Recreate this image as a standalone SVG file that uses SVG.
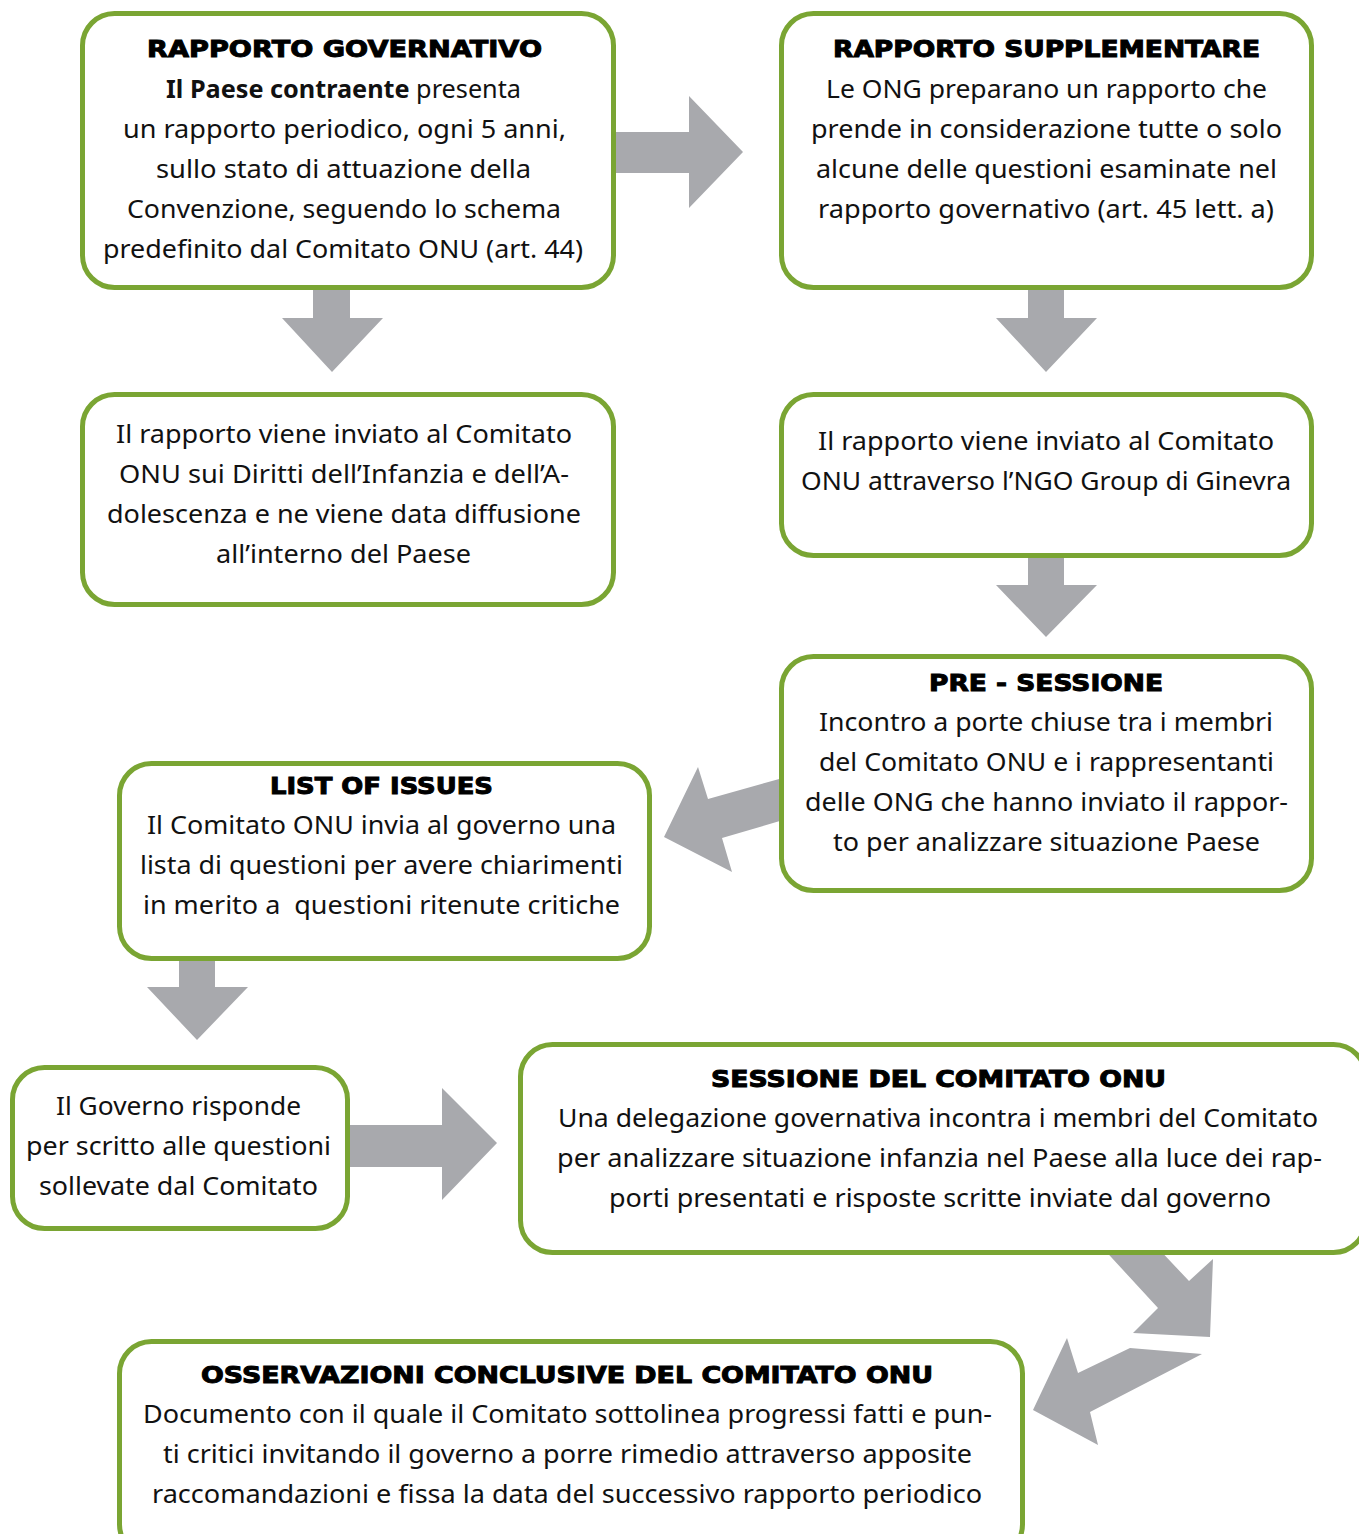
<svg xmlns="http://www.w3.org/2000/svg" width="1359" height="1534" viewBox="0 0 1359 1534">
<style>
.box{fill:#ffffff;stroke:#7aa533;stroke-width:5}
.arr{fill:#a8a9ad}
.t{font-family:"DejaVu Sans",sans-serif;font-weight:bold;font-size:23px;fill:#000;stroke:#000;stroke-width:1px;text-anchor:middle}
.b{font-family:"Noto Sans","Open Sans",sans-serif;font-size:25px;fill:#111;text-anchor:middle}
.bb{font-weight:bold}
.pre{white-space:pre}
</style>
<rect width="1359" height="1534" fill="#ffffff"/>
<g id="connectors">
<polygon class="arr" points="605,132 689,132 689,96 743,152 689,208 689,173 605,173"/>
<polygon class="arr" points="313,280 350,280 350,318 383,318 332,372 282,318 313,318"/>
<polygon class="arr" points="1028,280 1064,280 1064,318 1097,318 1046,372 996,318 1028,318"/>
<polygon class="arr" points="1028,548 1064,548 1064,585 1097,585 1046,637 996,585 1028,585"/>
<polygon class="arr" points="790,776 708,799 698,767 664,837 732,872 722,838 790,818"/>
<polygon class="arr" points="179,950 215,950 215,987 248,987 197,1040 147,987 179,987"/>
<polygon class="arr" points="340,1125 442,1125 442,1088 497,1143 442,1200 442,1167 340,1167"/>
<polygon class="arr" points="1100,1245 1155,1245 1189,1281 1213,1259 1210,1337 1133,1333 1158,1308"/>
<polygon class="arr" points="1202,1354 1130,1348 1078,1373 1067,1338 1033,1410 1098,1445 1090,1412"/>
</g>
<g id="node-rapporto-governativo">
<rect class="box" x="82.5" y="13.5" width="531" height="274" rx="32"/>
<text class="t" x="344.5" y="57" textLength="395" lengthAdjust="spacingAndGlyphs">RAPPORTO GOVERNATIVO</text>
<text class="b" x="343.5" y="98" textLength="355" lengthAdjust="spacingAndGlyphs"><tspan class="bb">Il Paese contraente</tspan> presenta</text>
<text class="b" x="344.5" y="138" textLength="443" lengthAdjust="spacingAndGlyphs">un rapporto periodico, ogni 5 anni,</text>
<text class="b" x="343.5" y="178" textLength="375" lengthAdjust="spacingAndGlyphs">sullo stato di attuazione della</text>
<text class="b" x="344" y="218" textLength="434" lengthAdjust="spacingAndGlyphs">Convenzione, seguendo lo schema</text>
<text class="b" x="343" y="258" textLength="480" lengthAdjust="spacingAndGlyphs">predefinito dal Comitato ONU (art. 44)</text>
</g>
<g id="node-rapporto-supplementare">
<rect class="box" x="781.5" y="13.5" width="530" height="274" rx="32"/>
<text class="t" x="1046.5" y="57" textLength="427" lengthAdjust="spacingAndGlyphs">RAPPORTO SUPPLEMENTARE</text>
<text class="b" x="1046.5" y="98" textLength="441" lengthAdjust="spacingAndGlyphs">Le ONG preparano un rapporto che</text>
<text class="b" x="1046.5" y="138" textLength="471" lengthAdjust="spacingAndGlyphs">prende in considerazione tutte o solo</text>
<text class="b" x="1046.5" y="178" textLength="461" lengthAdjust="spacingAndGlyphs">alcune delle questioni esaminate nel</text>
<text class="b" x="1046" y="218" textLength="456" lengthAdjust="spacingAndGlyphs">rapporto governativo (art. 45 lett. a)</text>
</g>
<g id="node-invio-comitato">
<rect class="box" x="82.5" y="394.5" width="531" height="210" rx="32"/>
<text class="b" x="344" y="443" textLength="456" lengthAdjust="spacingAndGlyphs">Il rapporto viene inviato al Comitato</text>
<text class="b" x="344" y="483" textLength="450" lengthAdjust="spacingAndGlyphs">ONU sui Diritti dell’Infanzia e dell’A-</text>
<text class="b" x="344" y="523" textLength="474" lengthAdjust="spacingAndGlyphs">dolescenza e ne viene data diffusione</text>
<text class="b" x="343.5" y="563" textLength="255" lengthAdjust="spacingAndGlyphs">all’interno del Paese</text>
</g>
<g id="node-invio-ngo">
<rect class="box" x="781.5" y="394.5" width="530" height="161" rx="32"/>
<text class="b" x="1046" y="450" textLength="456" lengthAdjust="spacingAndGlyphs">Il rapporto viene inviato al Comitato</text>
<text class="b" x="1046" y="490" textLength="490" lengthAdjust="spacingAndGlyphs">ONU attraverso l’NGO Group di Ginevra</text>
</g>
<g id="node-pre-sessione">
<rect class="box" x="781.5" y="656.5" width="530" height="234" rx="32"/>
<text class="t" x="1046" y="691" textLength="234" lengthAdjust="spacingAndGlyphs">PRE - SESSIONE</text>
<text class="b" x="1046" y="731" textLength="454" lengthAdjust="spacingAndGlyphs">Incontro a porte chiuse tra i membri</text>
<text class="b" x="1046.5" y="771" textLength="455" lengthAdjust="spacingAndGlyphs">del Comitato ONU e i rappresentanti</text>
<text class="b" x="1046.5" y="811" textLength="483" lengthAdjust="spacingAndGlyphs">delle ONG che hanno inviato il rappor-</text>
<text class="b" x="1046.5" y="851" textLength="427" lengthAdjust="spacingAndGlyphs">to per analizzare situazione Paese</text>
</g>
<g id="node-list-of-issues">
<rect class="box" x="119.5" y="763.5" width="530" height="195" rx="32"/>
<text class="t" x="381.5" y="794" textLength="223" lengthAdjust="spacingAndGlyphs">LIST OF ISSUES</text>
<text class="b" x="381.5" y="834" textLength="469" lengthAdjust="spacingAndGlyphs">Il Comitato ONU invia al governo una</text>
<text class="b" x="381.5" y="874" textLength="483" lengthAdjust="spacingAndGlyphs">lista di questioni per avere chiarimenti</text>
<text class="b pre" x="381.5" y="914" textLength="477" lengthAdjust="spacingAndGlyphs">in merito a  questioni ritenute critiche</text>
</g>
<g id="node-risposta-governo">
<rect class="box" x="12.5" y="1067.5" width="335" height="161" rx="32"/>
<text class="b" x="178.5" y="1115" textLength="245" lengthAdjust="spacingAndGlyphs">Il Governo risponde</text>
<text class="b" x="178.5" y="1155" textLength="305" lengthAdjust="spacingAndGlyphs">per scritto alle questioni</text>
<text class="b" x="178.5" y="1195" textLength="279" lengthAdjust="spacingAndGlyphs">sollevate dal Comitato</text>
</g>
<g id="node-sessione-comitato">
<rect class="box" x="520.5" y="1044.5" width="845" height="208" rx="32"/>
<text class="t" x="938.5" y="1087" textLength="455" lengthAdjust="spacingAndGlyphs">SESSIONE DEL COMITATO ONU</text>
<text class="b" x="938" y="1127" textLength="760" lengthAdjust="spacingAndGlyphs">Una delegazione governativa incontra i membri del Comitato</text>
<text class="b" x="939.5" y="1167" textLength="765" lengthAdjust="spacingAndGlyphs">per analizzare situazione infanzia nel Paese alla luce dei rap-</text>
<text class="b" x="940" y="1207" textLength="662" lengthAdjust="spacingAndGlyphs">porti presentati e risposte scritte inviate dal governo</text>
</g>
<g id="node-osservazioni-conclusive">
<rect class="box" x="119.5" y="1341.5" width="903" height="215" rx="32"/>
<text class="t" x="567" y="1383" textLength="732" lengthAdjust="spacingAndGlyphs">OSSERVAZIONI CONCLUSIVE DEL COMITATO ONU</text>
<text class="b" x="567.5" y="1423" textLength="849" lengthAdjust="spacingAndGlyphs">Documento con il quale il Comitato sottolinea progressi fatti e pun-</text>
<text class="b" x="567.5" y="1463" textLength="809" lengthAdjust="spacingAndGlyphs">ti critici invitando il governo a porre rimedio attraverso apposite</text>
<text class="b" x="567" y="1503" textLength="830" lengthAdjust="spacingAndGlyphs">raccomandazioni e fissa la data del successivo rapporto periodico</text>
</g>
</svg>
